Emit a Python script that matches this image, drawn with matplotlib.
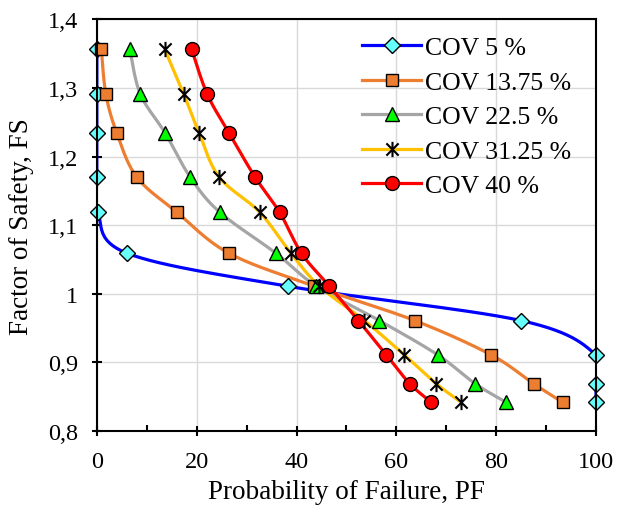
import numpy as np
import matplotlib
matplotlib.use("Agg")
import matplotlib.pyplot as plt
from matplotlib.path import Path
from matplotlib.lines import Line2D
from matplotlib.ticker import FuncFormatter, MultipleLocator

plt.rcParams['font.family'] = ['Liberation Serif', 'DejaVu Serif']

# factor of safety levels (shared by all series)
fs = [1.356, 1.291, 1.234, 1.170, 1.119, 1.059, 1.011, 0.961, 0.911, 0.869, 0.842]

# probability of failure (%) for each COV
pf_cov5 = [0, 0, 0, 0, 0.2, 6.1, 38.3, 85.0, 100, 100, 100]
pf_cov13 = [0.9, 1.8, 4.0, 8.0, 16.0, 26.5, 43.6, 63.7, 79.0, 87.5, 93.3]
pf_cov22 = [6.6, 8.7, 13.7, 18.7, 24.6, 35.9, 44.0, 56.6, 68.3, 75.8, 82.0]
pf_cov31 = [13.6, 17.4, 20.5, 24.5, 32.6, 38.9, 44.6, 53.6, 61.6, 68.0, 73.0]
pf_cov40 = [19.0, 22.1, 26.5, 31.7, 36.6, 41.0, 46.6, 52.4, 58.0, 62.7, 67.0]

labels = ['COV 5 %', 'COV 13.75 %', 'COV 22.5 %', 'COV 31.25 %', 'COV 40 %']

# asterisk marker: vertical bar + two diagonals
star = Path([(0, -1), (0, 1), (-0.8, -0.8), (0.8, 0.8), (-0.8, 0.8), (0.8, -0.8)],
            [Path.MOVETO, Path.LINETO, Path.MOVETO, Path.LINETO, Path.MOVETO, Path.LINETO])

styles = [
    dict(color='#0000FF', marker='D', mfc='#66FFFF', ms=8),
    dict(color='#ED7D31', marker='s', mfc='#ED7D31', ms=9),
    dict(color='#A5A5A5', marker='^', mfc='#00FF00', ms=10),
    dict(color='#FFC000', marker=star, mfc='none', ms=11),
    dict(color='#FF0000', marker='o', mfc='#FF0000', ms=10),
]


def smooth(x, y, n=30):
    # cardinal (catmull-rom style) bezier smoothing like spreadsheet charts
    p = np.column_stack([x, y]).astype(float)
    p = np.vstack([p[0], p, p[-1]])
    out = []
    t = np.linspace(0, 1, n)[:, None]
    for i in range(1, len(p) - 2):
        p0, p1, p2, p3 = p[i - 1], p[i], p[i + 1], p[i + 2]
        c1 = p1 + (p2 - p0) / 6
        c2 = p2 - (p3 - p1) / 6
        seg = ((1 - t) ** 3) * p1 + 3 * ((1 - t) ** 2) * t * c1 + 3 * (1 - t) * t ** 2 * c2 + t ** 3 * p2
        out.append(seg)
    s = np.vstack(out)
    return s[:, 0], s[:, 1]


fig = plt.figure(figsize=(6.17, 5.06), dpi=100)
ax = fig.add_axes([0.157, 0.146, 0.809, 0.814])

handles = []
for pf, st, lab in zip([pf_cov5, pf_cov13, pf_cov22, pf_cov31, pf_cov40], styles, labels):
    sx, sy = smooth(pf, fs)
    ax.plot(sx, sy, color=st['color'], lw=2.3, solid_capstyle='round', zorder=3)
    mew = 1.5 if st['marker'] is star else 1.0
    ax.plot(pf, fs, ls='none', marker=st['marker'], ms=st['ms'], mfc=st['mfc'],
            mec='black', mew=mew, clip_on=False, zorder=4)
    handles.append(Line2D([], [], color=st['color'], lw=2.3, marker=st['marker'], ms=st['ms'],
                          mfc=st['mfc'], mec='black', mew=mew))

ax.set_xlim(0, 100)
ax.set_ylim(0.8, 1.4)
ax.xaxis.set_major_locator(MultipleLocator(20))
ax.xaxis.set_minor_locator(MultipleLocator(10))
ax.yaxis.set_major_locator(MultipleLocator(0.1))
ax.yaxis.set_major_formatter(FuncFormatter(lambda v, _: ('%g' % round(v, 2)).replace('.', ',')))

ax.grid(True, which='major', color='#D9D9D9', lw=1.0, zorder=0)
ax.set_axisbelow(True)
for sp in ax.spines.values():
    sp.set_linewidth(1.5)
    sp.set_zorder(5)
ax.tick_params(which='major', direction='inout', length=7, width=1.5, labelsize=17.5)
ax.tick_params(axis='x', which='major', pad=11)
ax.tick_params(axis='y', which='major', pad=10)
ax.tick_params(which='minor', direction='in', length=4, width=1.5)
ax.tick_params(axis='y', which='minor', length=0)

ax.set_xlabel('Probability of Failure, PF', fontsize=19.5, labelpad=5)
ax.set_ylabel('Factor of Safety, FS', fontsize=19.5, labelpad=10)

fig.legend(handles, labels, loc='upper left', bbox_to_anchor=(362 / 617, 1 - 37 / 506),
           frameon=False, fontsize=18.5, handlelength=2.3, handletextpad=0.15,
           labelspacing=0.45, borderpad=0, borderaxespad=0)

fig.savefig('out.png', dpi=100)
